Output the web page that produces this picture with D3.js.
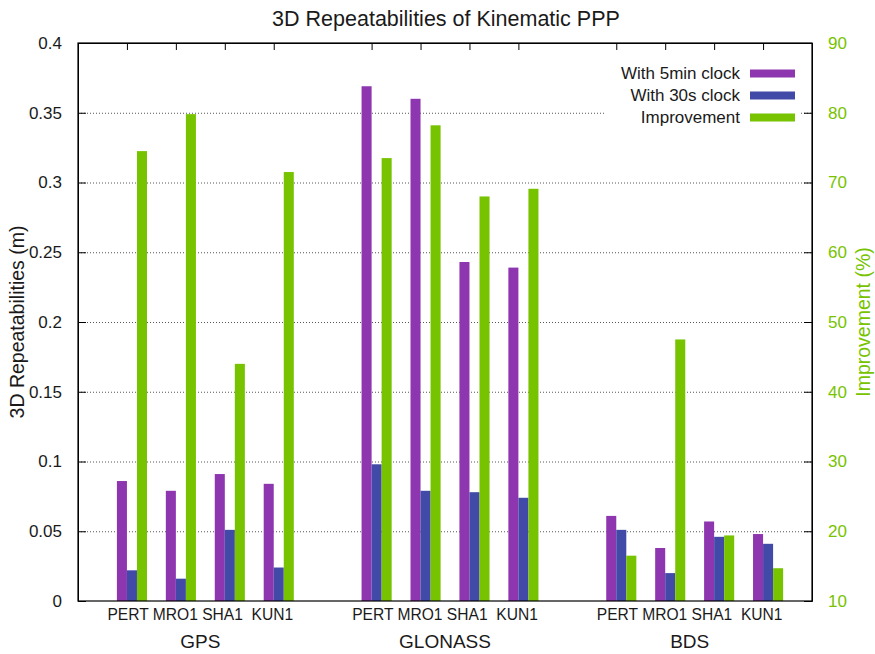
<!DOCTYPE html>
<meta charset="utf-8">
<style type="text/css">
    body { margin: 0; background: #fff; }
    text { font-family: "Liberation Sans", Arial, sans-serif; fill: #1a1a1a; }
    .grid line { stroke: #555; stroke-width: 1; stroke-dasharray: 1,2; }
    .grid path { display: none; }
    .axis path, .axis line { stroke: #000; stroke-width: 1; }
    .bar5 { fill: #8e35b0; }
    .bar30 { fill: #424aa8; }
    .barImp { fill: #77c300; }
</style>
<body>
</body>
<script src="https://d3js.org/d3.v7.min.js"></script>
<script>

    // categories
    var groups = ["GPS", "GLONASS", "BDS"];
    var stations = ["PERT", "MRO1", "SHA1", "KUN1"];
    var stationRow = "PERT MRO1 SHA1  KUN1"; // one label per group, as in the original
    var groupSlots = [1, 6, 11]; // first station slot of each group

    // series values (GPS x4, GLONASS x4, BDS x4)
    var clock5min = [0.086, 0.079, 0.091, 0.084,
                     0.369, 0.360, 0.243, 0.239,
                     0.061, 0.038, 0.057, 0.048];
    var clock30s  = [0.022, 0.016, 0.051, 0.024,
                     0.098, 0.079, 0.078, 0.074,
                     0.051, 0.020, 0.046, 0.041];
    var improvement = [74.5, 79.8, 44.0, 71.5,
                       73.5, 78.2, 68.0, 69.1,
                       16.5, 47.5, 19.4, 14.7];

    // tick labels
    var yTicks = [0, 0.05, 0.1, 0.15, 0.2, 0.25, 0.3, 0.35, 0.4];
    var y2Ticks = [10, 20, 30, 40, 50, 60, 70, 80, 90];
    var legendNames = ["With 5min clock", "With 30s clock", "Improvement"];

    var W = 875, H = 654;
    var margin = {top: 43, right: 63, bottom: 53, left: 78};
    var pL = margin.left, pR = W - margin.right,
        pT = margin.top, pB = H - margin.bottom;

    var x = d3.scaleLinear().domain([0, 15]).range([pL, pR]);
    var y = d3.scaleLinear().domain([0, 0.4]).range([pB, pT]);
    var y2 = d3.scaleLinear().domain([10, 90]).range([pB, pT]);

    var svg = d3.select("body").append("svg")
        .attr("width", W)
        .attr("height", H);

    // rows of data, one per station
    var rows = [];
    groups.forEach(function(g, gi) {
        stations.forEach(function(s, si) {
            var k = gi * 4 + si;
            rows.push({group: g, station: s, pos: groupSlots[gi] + si,
                       a: clock5min[k], b: clock30s[k], imp: improvement[k]});
        });
    });

    // dotted grid
    svg.append("g")
        .attr("class", "grid")
        .attr("transform", "translate(" + pL + ",0)")
        .call(d3.axisLeft(y).tickValues(yTicks.slice(1, -1)).tickSize(-(pR - pL)).tickFormat(""));

    var bw = 0.205;

    svg.selectAll(".bar5")
        .data(rows)
        .enter().append("rect")
        .attr("class", "bar5")
        .attr("x", function(d) { return x(d.pos - bw); })
        .attr("width", x(bw) - x(0))
        .attr("y", function(d) { return y(d.a); })
        .attr("height", function(d) { return y(0) - y(d.a); });

    svg.selectAll(".bar30")
        .data(rows)
        .enter().append("rect")
        .attr("class", "bar30")
        .attr("x", function(d) { return x(d.pos); })
        .attr("width", x(bw) - x(0))
        .attr("y", function(d) { return y(d.b); })
        .attr("height", function(d) { return y(0) - y(d.b); });

    svg.selectAll(".barImp")
        .data(rows)
        .enter().append("rect")
        .attr("class", "barImp")
        .attr("x", function(d) { return x(d.pos + bw); })
        .attr("width", x(bw) - x(0))
        .attr("y", function(d) { return y2(d.imp); })
        .attr("height", function(d) { return y2(10) - y2(d.imp); });

    // legend (opaque box hides the grid)
    var leg = svg.append("g");
    leg.append("rect")
        .attr("x", 605).attr("y", 58)
        .attr("width", 196).attr("height", 70)
        .attr("fill", "#fff");
    var legClass = ["bar5", "bar30", "barImp"];
    legendNames.forEach(function(n, i) {
        var cy = 73.5 + i * 22;
        leg.append("text")
            .attr("x", 740).attr("y", cy)
            .attr("dy", "0.35em")
            .attr("text-anchor", "end")
            .style("font-size", "17px")
            .text(n);
        leg.append("rect")
            .attr("class", legClass[i])
            .attr("x", 750).attr("y", cy - 4)
            .attr("width", 45).attr("height", 8);
    });

    // axes
    var ax = svg.append("g").attr("class", "axis");
    ax.append("g")
        .attr("transform", "translate(" + pL + ",0)")
        .call(d3.axisLeft(y).tickValues(yTicks).tickSize(-8).tickPadding(16)
            .tickFormat(function(d) { return String(+d.toFixed(2)); }))
        .call(function(g) {
            g.selectAll("text").style("font-size", "17px").style("fill", "#1a1a1a");
        });
    ax.append("g")
        .attr("transform", "translate(" + pR + ",0)")
        .call(d3.axisRight(y2).tickValues(y2Ticks).tickSize(-8).tickPadding(16))
        .call(function(g) {
            g.selectAll("text").style("font-size", "17px").style("fill", "#77c300");
        });
    var allPos = rows.map(function(d) { return d.pos; });
    ax.append("g")
        .attr("transform", "translate(0," + pT + ")")
        .call(d3.axisTop(x).tickValues(allPos).tickSize(-7).tickFormat(""));
    svg.append("rect")
        .attr("x", pL).attr("y", pT)
        .attr("width", pR - pL).attr("height", pB - pT)
        .attr("fill", "none").attr("stroke", "#000").attr("stroke-width", 1.2);

    // station row and group labels
    groupSlots.forEach(function(s, gi) {
        var cx = x(s + 1.5);
        svg.append("text")
            .attr("x", cx).attr("y", 620)
            .attr("text-anchor", "middle")
            .style("font-size", "15.6px")
            .style("white-space", "pre")
            .text(stationRow);
        svg.append("text")
            .attr("x", cx).attr("y", 648)
            .attr("text-anchor", "middle")
            .style("font-size", "19px")
            .text(groups[gi]);
    });

    // title and axis labels
    svg.append("text")
        .attr("x", (pL + pR) / 2 + 1).attr("y", 26)
        .attr("text-anchor", "middle")
        .style("font-size", "21.5px")
        .text("3D Repeatabilities of Kinematic PPP");

    svg.append("text")
        .attr("transform", "translate(24," + (pT + pB) / 2 + ") rotate(-90)")
        .attr("text-anchor", "middle")
        .style("font-size", "19.5px")
        .text("3D Repeatabilities (m)");

    svg.append("text")
        .attr("transform", "translate(870," + (pT + pB) / 2 + ") rotate(-90)")
        .attr("text-anchor", "middle")
        .style("font-size", "19.5px")
        .style("fill", "#77c300")
        .text("Improvement (%)");

</script>
